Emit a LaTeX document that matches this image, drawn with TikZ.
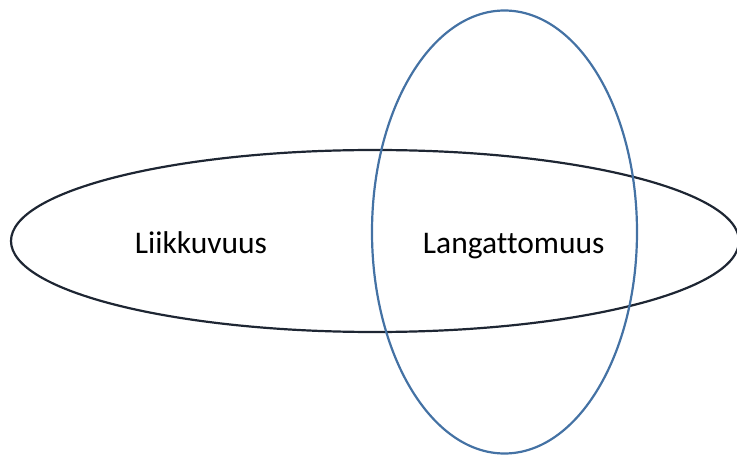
\documentclass[tikz,border=0pt]{standalone}
\usepackage{fontspec}
\setmainfont[Ligatures={NoCommon}]{Carlito}
\definecolor{darkline}{HTML}{1E2633}
\definecolor{blueline}{HTML}{4472A4}
\begin{document}
\begin{tikzpicture}[x=1pt,y=1pt,
  lbl/.style={anchor=base,inner sep=0pt,font=\fontsize{31.5}{36}\selectfont}]
\useasboundingbox (0,0) rectangle (737,456);
\clip (0,0) rectangle (737,456);
\draw[darkline,line width=2.2pt] (375,215) ellipse [x radius=364,y radius=91];
\draw[blueline,line width=2.2pt] (504.5,224) ellipse [x radius=132.5,y radius=221.5];
\node[lbl] (liik) at (201,202) {Liikkuvuus};
\node[lbl] (lang) at (513.7,202) {Langattomuus};
\end{tikzpicture}
\end{document}
